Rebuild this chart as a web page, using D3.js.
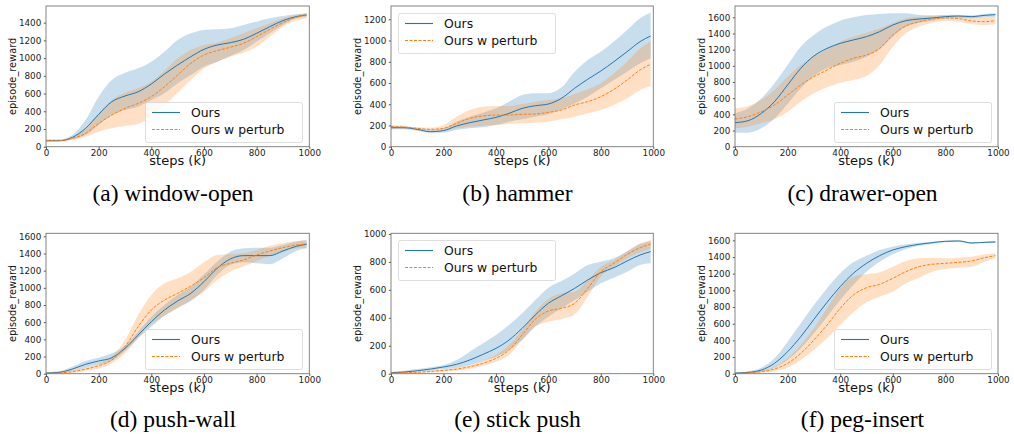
<!DOCTYPE html>
<html>
<head>
<meta charset="utf-8">
<script src="https://cdn.jsdelivr.net/npm/d3@7"></script>
<style>
  body { margin: 0; background: #fff; }
  svg { display: block; }
</style>
</head>
<body>
<div id="chart"></div>
<script>
// x positions of the samples (k steps)
const steps = [0, 50, 100, 150, 200, 250, 300, 350, 400, 450, 500, 550, 600, 650, 700, 750, 800, 850, 900, 950, 990];
const xTicks = [0, 200, 400, 600, 800, 1000];
const seriesNames = ["Ours", "Ours w perturb"];

// (a) window-open
const winOurs   = [68, 68, 105, 207, 365, 508, 572, 620, 708, 820, 922, 1016, 1099, 1148, 1174, 1212, 1280, 1355, 1423, 1468, 1487];
const winOursHi = [80, 80, 132, 300, 565, 753, 835, 885, 960, 1073, 1204, 1280, 1317, 1325, 1336, 1374, 1411, 1449, 1475, 1494, 1505];
const winOursLo = [58, 58, 83, 132, 245, 357, 414, 452, 527, 602, 715, 809, 903, 960, 1024, 1091, 1186, 1280, 1374, 1449, 1468];
const winPert   = [68, 68, 94, 150, 263, 357, 433, 489, 565, 677, 809, 941, 1035, 1084, 1122, 1167, 1242, 1325, 1400, 1460, 1487];
const winPertHi = [78, 78, 113, 207, 376, 527, 610, 659, 734, 858, 997, 1091, 1148, 1174, 1223, 1280, 1336, 1393, 1449, 1487, 1505];
const winPertLo = [58, 58, 75, 113, 169, 207, 233, 256, 346, 470, 610, 753, 884, 960, 1016, 1061, 1129, 1242, 1355, 1423, 1449];
const winTicks  = [0, 200, 400, 600, 800, 1000, 1200, 1400];

// (b) hammer
const hamOurs   = [179, 179, 163, 141, 151, 195, 226, 251, 276, 314, 361, 386, 402, 456, 550, 635, 713, 801, 895, 990, 1043];
const hamOursHi = [195, 190, 173, 157, 173, 236, 283, 320, 361, 424, 487, 503, 503, 559, 707, 817, 895, 990, 1100, 1210, 1263];
const hamOursLo = [163, 165, 151, 132, 132, 157, 173, 182, 204, 236, 258, 283, 305, 352, 408, 471, 550, 628, 707, 785, 833];
const hamPert   = [188, 185, 173, 163, 173, 220, 267, 289, 298, 298, 305, 308, 324, 346, 393, 424, 471, 540, 628, 723, 776];
const hamPertHi = [204, 198, 182, 179, 204, 283, 346, 377, 383, 383, 402, 424, 440, 456, 496, 540, 597, 691, 801, 927, 990];
const hamPertLo = [173, 170, 163, 151, 151, 173, 188, 198, 204, 214, 220, 226, 236, 258, 283, 314, 346, 393, 456, 534, 572];
const hamTicks  = [0, 200, 400, 600, 800, 1000, 1200];

// (c) drawer-open
const drwOurs   = [297, 322, 412, 557, 763, 969, 1122, 1216, 1278, 1320, 1361, 1423, 1505, 1559, 1579, 1592, 1608, 1616, 1608, 1625, 1633];
const drwOursHi = [412, 474, 598, 784, 1010, 1237, 1381, 1485, 1559, 1600, 1629, 1641, 1649, 1649, 1629, 1625, 1629, 1633, 1625, 1641, 1649];
const drwOursLo = [173, 173, 227, 350, 528, 722, 874, 969, 1010, 1052, 1113, 1204, 1361, 1485, 1534, 1559, 1584, 1592, 1588, 1600, 1608];
const drwPert   = [342, 371, 433, 515, 639, 763, 866, 948, 1031, 1093, 1134, 1216, 1381, 1493, 1546, 1579, 1592, 1584, 1555, 1546, 1559];
const drwPertHi = [474, 503, 577, 701, 866, 1010, 1122, 1204, 1299, 1361, 1410, 1464, 1526, 1588, 1608, 1616, 1625, 1616, 1600, 1600, 1608];
const drwPertLo = [227, 247, 289, 338, 433, 557, 660, 734, 792, 825, 874, 1010, 1237, 1402, 1485, 1534, 1559, 1546, 1518, 1505, 1518];
const drwTicks  = [0, 200, 400, 600, 800, 1000, 1200, 1400, 1600];

// (d) push-wall
const pwOurs   = [8, 16, 54, 109, 148, 186, 295, 450, 606, 742, 847, 936, 1072, 1227, 1336, 1375, 1375, 1375, 1429, 1483, 1507];
const pwOursHi = [16, 30, 82, 148, 186, 237, 326, 489, 664, 800, 917, 1014, 1157, 1305, 1421, 1460, 1468, 1468, 1499, 1538, 1553];
const pwOursLo = [0, 6, 31, 70, 109, 148, 264, 412, 548, 676, 769, 847, 975, 1150, 1266, 1297, 1285, 1274, 1344, 1429, 1460];
const pwPert   = [4, 10, 23, 54, 93, 159, 315, 548, 742, 858, 936, 1021, 1118, 1235, 1285, 1324, 1383, 1429, 1468, 1499, 1511];
const pwPertHi = [8, 18, 39, 70, 120, 198, 392, 683, 917, 1052, 1111, 1188, 1297, 1383, 1390, 1402, 1441, 1491, 1518, 1546, 1553];
const pwPertLo = [0, 3, 8, 31, 62, 120, 237, 419, 575, 676, 761, 858, 955, 1091, 1188, 1247, 1313, 1375, 1421, 1460, 1468];
const pwTicks  = [0, 200, 400, 600, 800, 1000, 1200, 1400, 1600];

// (e) stick push
const spOurs   = [7, 12, 21, 33, 48, 67, 98, 138, 181, 241, 325, 420, 504, 558, 611, 671, 723, 759, 807, 850, 874];
const spOursHi = [14, 22, 33, 46, 62, 98, 158, 217, 277, 348, 432, 527, 616, 663, 718, 778, 802, 826, 874, 926, 950];
const spOursLo = [0, 6, 14, 22, 33, 43, 62, 91, 122, 169, 241, 337, 408, 468, 527, 587, 647, 687, 730, 778, 790];
const spPert   = [5, 7, 10, 16, 24, 33, 50, 74, 110, 169, 277, 389, 449, 468, 504, 611, 730, 790, 854, 902, 928];
const spPertHi = [7, 10, 14, 22, 31, 45, 62, 91, 134, 205, 313, 444, 535, 575, 587, 671, 766, 814, 878, 933, 957];
const spPertLo = [0, 3, 5, 9, 14, 22, 33, 57, 86, 134, 241, 337, 372, 391, 425, 551, 695, 766, 826, 869, 893];
const spTicks  = [0, 200, 400, 600, 800, 1000];

// (f) peg-insert
const pegOurs   = [8, 16, 44, 124, 264, 444, 652, 856, 1044, 1204, 1324, 1416, 1484, 1524, 1552, 1572, 1588, 1592, 1568, 1576, 1580];
const pegOursHi = [12, 30, 72, 184, 384, 604, 824, 1024, 1204, 1336, 1416, 1484, 1524, 1552, 1572, 1584, 1596, 1600, 1576, 1584, 1592];
const pegOursLo = [0, 6, 24, 72, 164, 304, 484, 684, 884, 1064, 1224, 1344, 1432, 1496, 1536, 1556, 1576, 1584, 1560, 1568, 1568];
const pegPert   = [4, 10, 24, 56, 124, 244, 404, 584, 784, 944, 1032, 1072, 1144, 1224, 1284, 1312, 1324, 1336, 1352, 1392, 1416];
const pegPertHi = [8, 18, 40, 84, 184, 344, 544, 784, 1024, 1164, 1192, 1216, 1284, 1352, 1384, 1392, 1384, 1392, 1404, 1432, 1444];
const pegPertLo = [0, 4, 12, 32, 72, 164, 284, 424, 584, 736, 856, 924, 984, 1084, 1152, 1224, 1256, 1272, 1284, 1344, 1384];
const pegTicks  = [0, 200, 400, 600, 800, 1000, 1200, 1400, 1600];

const captions = ["(a) window-open", "(b) hammer", "(c) drawer-open", "(d) push-wall", "(e) stick push", "(f) peg-insert"];

// panel table built from the arrays above
const panels = [
  { ours: [winOurs, winOursLo, winOursHi], pert: [winPert, winPertLo, winPertHi], ticks: winTicks, ymax: 1588 },
  { ours: [hamOurs, hamOursLo, hamOursHi], pert: [hamPert, hamPertLo, hamPertHi], ticks: hamTicks, ymax: 1325 },
  { ours: [drwOurs, drwOursLo, drwOursHi], pert: [drwPert, drwPertLo, drwPertHi], ticks: drwTicks, ymax: 1740 },
  { ours: [pwOurs, pwOursLo, pwOursHi], pert: [pwPert, pwPertLo, pwPertHi], ticks: pwTicks, ymax: 1635 },
  { ours: [spOurs, spOursLo, spOursHi], pert: [spPert, spPertLo, spPertHi], ticks: spTicks, ymax: 1005 },
  { ours: [pegOurs, pegOursLo, pegOursHi], pert: [pegPert, pegPertLo, pegPertHi], ticks: pegTicks, ymax: 1684 }
];

// layout of each axes box
const boxes = [
  { left: 46, right: 309.3, top: 6, bottom: 146.7, legend: "lr", capX: 173, capY: 201 },
  { left: 391, right: 653.3, top: 6, bottom: 146.7, legend: "ul", capX: 517.5, capY: 201 },
  { left: 735, right: 998, top: 6, bottom: 146.7, legend: "lr", capX: 862.5, capY: 201 },
  { left: 46, right: 309.3, top: 233.3, bottom: 373.7, legend: "lr", capX: 173, capY: 427 },
  { left: 391, right: 653.3, top: 233.3, bottom: 373.7, legend: "ul", capX: 517.5, capY: 427 },
  { left: 735, right: 998, top: 233.3, bottom: 373.7, legend: "lr", capX: 862.5, capY: 427 }
];

const colors = ["#1f77b4", "#ff7f0e"];
const dashes = [null, "3,1.5"];

const svg = d3.select("#chart").append("svg")
  .attr("width", 1014)
  .attr("height", 434)
  .style("font-family", "'DejaVu Sans', sans-serif");

const defs = svg.append("defs");

panels.forEach((p, idx) => {
  const b = boxes[idx];
  const x = d3.scaleLinear().domain([0, 1000]).range([b.left, b.right]);
  const y = d3.scaleLinear().domain([0, p.ymax]).range([b.bottom, b.top]);

  defs.append("clipPath").attr("id", "clip" + idx)
    .append("rect")
    .attr("x", b.left).attr("y", b.top)
    .attr("width", b.right - b.left).attr("height", b.bottom - b.top);

  const g = svg.append("g");
  const plot = g.append("g").attr("clip-path", `url(#clip${idx})`);

  const sets = [p.ours, p.pert];

  // bands
  sets.forEach((s, i) => {
    const area = d3.area()
      .x((d, j) => x(steps[j]))
      .y0((d, j) => y(s[1][j]))
      .y1((d, j) => y(s[2][j]))
      .curve(d3.curveMonotoneX);
    plot.append("path")
      .attr("d", area(steps))
      .attr("fill", colors[i])
      .attr("fill-opacity", 0.24)
      .attr("stroke", "none");
  });

  // mean lines
  sets.forEach((s, i) => {
    const line = d3.line()
      .x((d, j) => x(steps[j]))
      .y((d, j) => y(s[0][j]))
      .curve(d3.curveMonotoneX);
    plot.append("path")
      .attr("d", line(steps))
      .attr("fill", "none")
      .attr("stroke", colors[i])
      .attr("stroke-width", 1)
      .attr("stroke-dasharray", dashes[i]);
  });

  // axes
  const fmt = d3.format("d");
  const xAxis = g.append("g")
    .attr("transform", `translate(0,${b.bottom})`)
    .call(d3.axisBottom(x).tickValues(xTicks).tickFormat(fmt).tickSize(2.2).tickPadding(0.8));
  const yAxis = g.append("g")
    .attr("transform", `translate(${b.left},0)`)
    .call(d3.axisLeft(y).tickValues(p.ticks).tickFormat(fmt).tickSize(2.2).tickPadding(2.5));

  [xAxis, yAxis].forEach(a => {
    a.select(".domain").remove();
    a.selectAll("line").attr("stroke", "#555");
    a.selectAll("text")
      .attr("fill", "#222")
      .style("font-size", "8.8px")
      .style("font-family", "'DejaVu Sans', sans-serif");
  });

  g.append("rect")
    .attr("x", b.left).attr("y", b.top)
    .attr("width", b.right - b.left).attr("height", b.bottom - b.top)
    .attr("fill", "none")
    .attr("stroke", "#777")
    .attr("stroke-width", 0.9);

  // axis labels
  g.append("text")
    .attr("x", (b.left + b.right) / 2)
    .attr("y", b.bottom + 18)
    .attr("text-anchor", "middle")
    .attr("fill", "#111")
    .style("font-size", "13px")
    .text("steps (k)");

  g.append("text")
    .attr("transform", `translate(${b.left - 30},${(b.top + b.bottom) / 2}) rotate(-90)`)
    .attr("text-anchor", "middle")
    .attr("fill", "#111")
    .style("font-size", "9.8px")
    .text("episode_reward");

  // legend
  const lw = 157, lh = 40;
  const lx = Math.round(b.legend === "lr" ? b.right - 7.5 - lw : b.left + 7.3);
  const ly = Math.round(b.legend === "lr" ? b.bottom - 5 - lh : b.top + 6.7);
  const leg = g.append("g").attr("transform", `translate(${lx},${ly})`);
  leg.append("rect")
    .attr("x", 0.5).attr("y", 0.5)
    .attr("width", lw).attr("height", lh)
    .attr("rx", 2)
    .attr("fill", "#fff").attr("fill-opacity", 0.8)
    .attr("stroke", "#d4d4d4").attr("stroke-width", 0.8);
  seriesNames.forEach((name, i) => {
    const ry = 10.5 + i * 17;
    leg.append("line")
      .attr("x1", 7).attr("x2", 35)
      .attr("y1", ry).attr("y2", ry)
      .attr("stroke", colors[i])
      .attr("stroke-width", 1.1)
      .attr("stroke-dasharray", dashes[i]);
    leg.append("text")
      .attr("x", 46)
      .attr("y", ry)
      .attr("dy", "0.36em")
      .attr("fill", "#111")
      .style("font-size", "12.4px")
      .text(name);
  });

  // caption
  svg.append("text")
    .attr("x", b.capX)
    .attr("y", b.capY)
    .attr("text-anchor", "middle")
    .attr("fill", "#000")
    .style("font-family", "'Liberation Serif', 'Times New Roman', serif")
    .style("font-size", "23.5px")
    .text(captions[idx]);
});
</script>
</body>
</html>
